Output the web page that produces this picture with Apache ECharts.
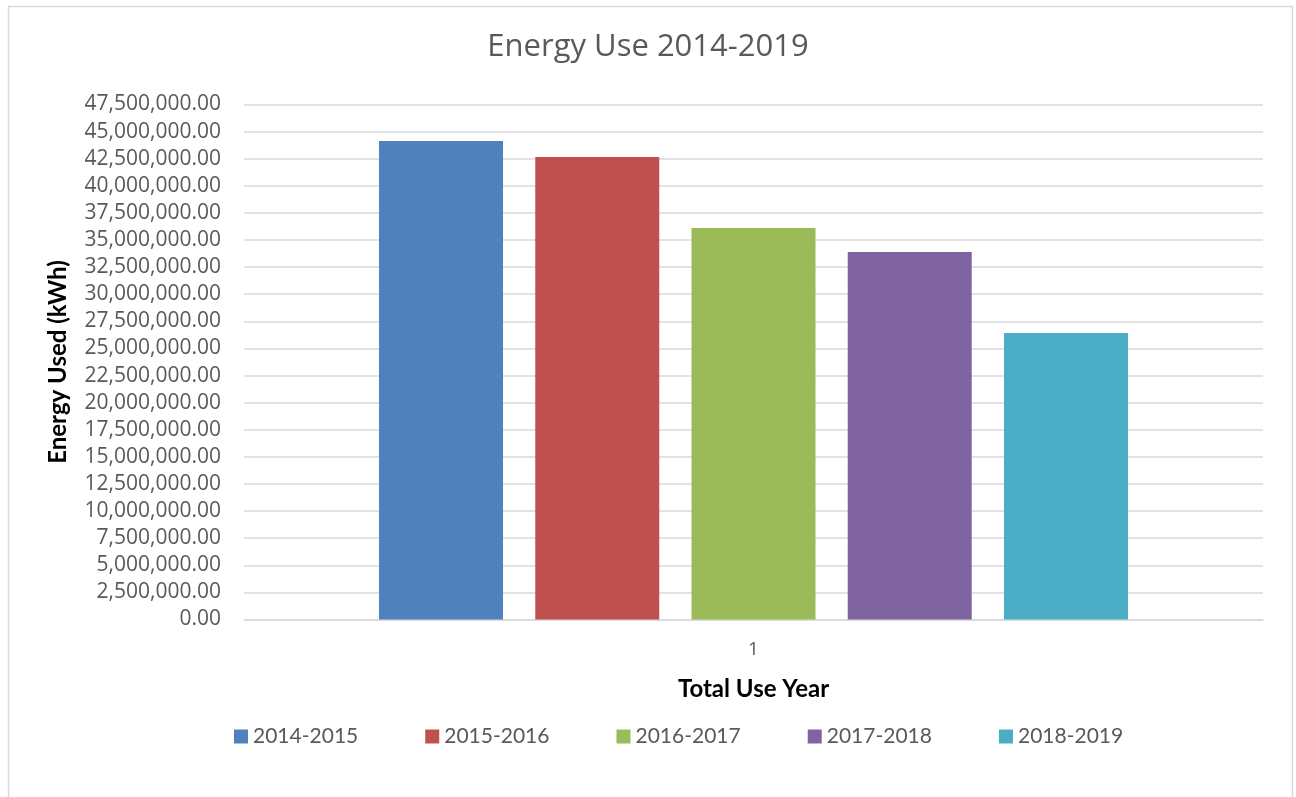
<!DOCTYPE html>
<html>
<head>
<meta charset="utf-8">
<script src="https://cdn.jsdelivr.net/npm/echarts@6/dist/echarts.min.js"></script>
<style>
html,body{margin:0;padding:0;background:#fff;}
#chart{width:1296px;height:797px;}
</style>
</head>
<body>
<div id="chart"></div>
<script>
var categories = ['1'];
var seriesNames = ['2014-2015', '2015-2016', '2016-2017', '2017-2018', '2018-2019'];
var seriesValues = [44130000, 42660000, 36110000, 33900000, 26430000];
var colors = ['#4F81BD', '#C0504D', '#9BBB59', '#8064A2', '#4BACC6'];

var chart = echarts.init(document.getElementById('chart'));
var series = seriesNames.map(function (name, i) {
  return {
    name: name,
    type: 'bar',
    data: [seriesValues[i]],
    barWidth: 124,
    barGap: '26%',
    itemStyle: { color: colors[i] }
  };
});

chart.setOption({
  animation: false,
  color: colors,
  graphic: [{
    type: 'rect',
    shape: { x: 8.5, y: 6.5, width: 1284, height: 820 },
    style: { fill: 'none', stroke: '#d9d9d9', lineWidth: 1.5 },
    silent: true
  }],
  title: {
    text: 'Energy Use 2014-2019',
    left: 'center',
    top: 27,
    textStyle: { fontFamily: 'Open Sans', fontSize: 31, fontWeight: 'normal', color: '#595959' }
  },
  legend: {
    left: 229,
    top: 721,
    itemWidth: 14,
    itemHeight: 14,
    itemGap: 67,
    icon: 'rect',
    textStyle: { fontFamily: 'Lato', fontSize: 21, color: '#595959' },
    data: seriesNames
  },
  grid: { left: 244, right: 33, top: 104.5, bottom: 177.5 },
  xAxis: {
    type: 'category',
    data: categories,
    name: 'Total Use Year',
    nameLocation: 'middle',
    nameGap: 58,
    nameTextStyle: { fontFamily: 'Lato', fontSize: 24, fontWeight: 'bold', color: '#000' },
    axisLine: { lineStyle: { color: '#d9d9d9', width: 1.5 } },
    axisTick: { show: false },
    axisLabel: { margin: 21, fontFamily: 'Open Sans', fontSize: 19, color: '#595959' }
  },
  yAxis: {
    type: 'value',
    min: 0,
    max: 47500000,
    interval: 2500000,
    name: 'Energy Used (kWh)',
    nameLocation: 'middle',
    nameGap: 174,
    nameTextStyle: { fontFamily: 'Lato', fontSize: 24, fontWeight: 'bold', color: '#000' },
    axisLine: { show: false },
    axisTick: { show: false },
    splitLine: { lineStyle: { color: '#d9d9d9', width: 1.5 } },
    axisLabel: {
      margin: 23,
      fontFamily: 'Open Sans',
      fontSize: 21,
      color: '#595959',
      formatter: function (v) {
        return v.toLocaleString('en-US', { minimumFractionDigits: 2, maximumFractionDigits: 2 });
      }
    }
  },
  series: series
});
</script>
</body>
</html>
